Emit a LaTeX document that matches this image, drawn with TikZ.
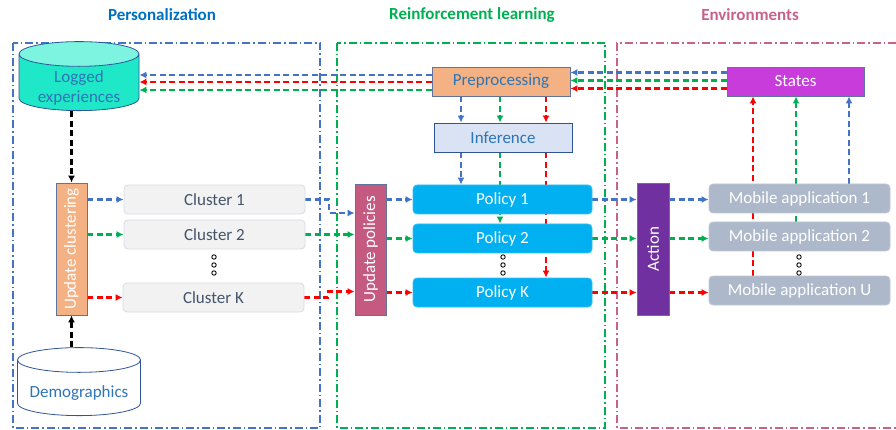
\documentclass[tikz,border=0pt]{standalone}
\usepackage{fontspec}
\setmainfont{Carlito}
\usepackage{graphicx}
\usetikzlibrary{calc}
\usetikzlibrary{positioning}
\usetikzlibrary{arrows.meta}
\usetikzlibrary{backgrounds}
\usetikzlibrary{shapes.geometric}

\definecolor{lineblue}{RGB}{68,114,196}
\definecolor{linegreen}{RGB}{0,176,80}
\definecolor{linered}{RGB}{255,0,0}
\definecolor{titleblue}{RGB}{0,112,192}
\definecolor{envpink}{RGB}{201,98,138}
\definecolor{textblue}{RGB}{46,117,182}
\definecolor{darkblue}{RGB}{47,85,151}
\definecolor{slate}{RGB}{68,84,106}
\definecolor{framegray}{RGB}{96,116,158}
\definecolor{orangefill}{RGB}{244,177,131}
\definecolor{tealfill}{RGB}{30,232,200}
\definecolor{tealtop}{RGB}{125,244,224}
\definecolor{clusterfill}{RGB}{242,242,242}
\definecolor{clusterdraw}{RGB}{214,220,229}
\definecolor{upfill}{RGB}{197,90,128}
\definecolor{policyfill}{RGB}{0,176,240}
\definecolor{actionfill}{RGB}{112,48,160}
\definecolor{appfill}{RGB}{173,185,202}
\definecolor{statesfill}{RGB}{200,60,220}
\definecolor{inferfill}{RGB}{218,227,243}

\begin{document}
\begin{tikzpicture}[x=1pt,y=-1pt,font=\fontsize{17}{20}\selectfont]
  \tikzstyle{title}=[font=\fontsize{17}{20}\selectfont\bfseries]
  \tikzstyle{region}=[line width=1.3pt, dash pattern=on 8pt off 3pt on 1.5pt off 3pt]
  \tikzstyle{flow}=[line width=2.1pt, dash pattern=on 6pt off 3.5pt, -{Latex[length=7pt,width=7pt]}]
  \tikzstyle{box}=[rectangle, draw=framegray, line width=0.8pt, inner sep=0pt]
  \tikzstyle{tallbox}=[box, text=white, minimum width=31pt, minimum height=132pt]
  \tikzstyle{widebox}=[box, minimum width=138pt, minimum height=29pt]
  \tikzstyle{roundbox}=[rectangle, rounded corners=4pt, line width=0.8pt, inner sep=0pt, minimum width=181pt, minimum height=29pt]
  \tikzstyle{cluster}=[roundbox, fill=clusterfill, draw=clusterdraw, text=slate]
  \tikzstyle{policy}=[roundbox, minimum width=179pt, fill=policyfill, draw=policyfill!80!white, text=white]
  \tikzstyle{app}=[roundbox, fill=appfill, draw=appfill!80!white, text=white]
  \tikzstyle{store}=[cylinder, shape border rotate=90, aspect=0.3, draw=darkblue, line width=0.8pt, inner sep=0pt, minimum width=120pt, minimum height=69pt]
  \tikzstyle{storetext}=[text=textblue, align=center, yshift=-5pt]

  \useasboundingbox (0,0) rectangle (896,430);

  % titles
  \node[title,text=titleblue] at (162,15) (tpers) {Personalization};
  \node[title,text=linegreen] at (472,15) (trl)   {Reinforcement learning};
  \node[title,text=envpink]   at (750,15) (tenv)  {Environments};

  % personalization
  \node[store,cylinder uses custom fill,cylinder body fill=tealfill,cylinder end fill=tealtop,
        label={[storetext]center:Logged\\experiences}] at (79,82.5) (logged) {\hphantom{experiences}};
  \node[store,fill=white,minimum width=123pt,minimum height=68pt,
        label={[storetext]center:Demographics}] at (79,388) (demo) {\hphantom{experiences}};
  \node[tallbox,fill=orangefill] at (71.5,249) (uc) {\rotatebox{90}{Update clustering}};
  \node[cluster] at (214.5,199.5) (c1) {Cluster 1};
  \node[cluster] at (214.5,234.5) (c2) {Cluster 2};
  \node[cluster] at (213.5,297.5) (cK) {Cluster K};

  % reinforcement learning
  \node[widebox,fill=orangefill,text=textblue] at (501,81.5)  (pre) {Preprocessing};
  \node[widebox,fill=inferfill,draw=darkblue,text=textblue] at (503,137.5) (inf) {Inference};
  \node[tallbox,fill=upfill,minimum height=131pt] at (370.5,249.5) (up) {\rotatebox{90}{Update policies}};
  \node[policy] at (502.5,199.5) (p1) {Policy 1};
  \node[policy] at (502.5,238.5) (p2) {Policy 2};
  \node[policy] at (502.5,292.5) (pK) {Policy K};

  % environments
  \node[widebox,fill=statesfill,text=white,minimum width=137pt] at (795.5,81.5) (states) {States};
  \node[tallbox,fill=actionfill,minimum width=32pt] at (653,249) (act) {\rotatebox{90}{Action}};
  \node[app] at (799.5,198.5) (a1) {Mobile application 1};
  \node[app] at (799.5,236.5) (a2) {Mobile application 2};
  \node[app] at (799.5,290.5) (aU) {Mobile application U};

  % dots
  \foreach \x in {214,503,799}
    \foreach \y in {257,265,273}
      \draw[line width=0.9pt] (\x,\y) circle (2.2pt);

  \begin{scope}[on background layer]
    \draw[region,lineblue]  (13,43) rectangle (320,428);
    \draw[region,linegreen] (337,43) rectangle (605,428);
    \draw[region,envpink]   (896,43) -- (617,43) -- (617,428) -- (896,428);

    % states to preprocessing to logged experiences
    \foreach \dy/\col in {9/lineblue, 1/linegreen, -7/linered}
      \draw[flow,color=\col] ([yshift=\dy pt]states.west) -- ([yshift=\dy pt]pre.east);
    \foreach \dy/\col in {6.5/lineblue, -0.5/linered, -8.5/linegreen}
      \draw[flow,color=\col] ([yshift=\dy pt]pre.west) -- ([yshift=\dy pt]pre.west -| logged.east);

    % preprocessing to inference to policies
    \foreach \dx/\col/\target in {-40/lineblue/p1, -1/linegreen/p2, 45/linered/pK} {
      \draw[flow,color=\col] ([xshift=\dx pt]pre.south) -- ([xshift=\dx pt]pre.south |- inf.north);
      \draw[flow,color=\col] ([xshift=\dx pt]pre.south |- inf.south) -- ([xshift=\dx pt]pre.south |- \target.north);
    }

    % clustering
    \draw[flow,black] (uc.north |- logged.south) -- (uc.north);
    \draw[flow,black] (uc.south |- demo.north) -- (uc.south);
    \foreach \c/\col in {c1/lineblue, c2/linegreen, cK/linered}
      \draw[flow,color=\col] (uc.east |- \c) -- (\c.west);

    % clusters to update policies
    \draw[flow,lineblue]  (c1.east) -- ++(24,0) |- ([yshift=-13.5pt]c1.east -| up.west);
    \draw[flow,linegreen] (c2.east) -- (c2.east -| up.west);
    \draw[flow,linered]   (cK.east) -- ++(24,0) |- ([yshift=6pt]cK.east -| up.west);

    % policies to action to applications
    \foreach \p/\a/\col in {p1/a1/lineblue, p2/a2/linegreen, pK/aU/linered} {
      \draw[flow,color=\col] (up.east |- \p) -- (\p.west);
      \draw[flow,color=\col] (\p.east) -- (act.west |- \p);
      \draw[flow,color=\col] (act.east |- \p) -- (\a.west |- \p);
    }

    % applications to states
    \foreach \dx/\col/\a in {-42.5/linered/aU, 0.5/linegreen/a2, 53.5/lineblue/a1}
      \draw[flow,color=\col] ([xshift=\dx pt]states.south |- \a.north) -- ([xshift=\dx pt]states.south);
  \end{scope}
\end{tikzpicture}
\end{document}
